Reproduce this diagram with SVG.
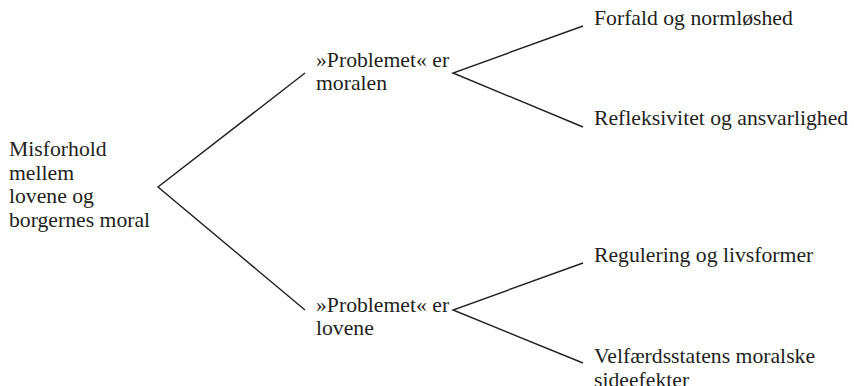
<svg xmlns="http://www.w3.org/2000/svg" width="854" height="386" viewBox="0 0 854 386">
  <style>
    .edge { stroke: #231f20; stroke-width: 1.4; fill: none; }
  </style>
  <rect width="854" height="386" fill="#ffffff"/>

  <g id="connectors">
    <polyline class="edge" points="305,73 158,187 305,310"/>
    <polyline class="edge" points="583,26 453,73 583,127"/>
    <polyline class="edge" points="583,263 453,310 583,363"/>
  </g>

  <g id="labels" font-family="Liberation Serif, Times New Roman, serif" font-size="21.7" fill="#231f20">
    <g id="root">
      <text x="9" y="156">Misforhold</text>
      <text x="9" y="180">mellem</text>
      <text x="9" y="203">lovene og</text>
      <text x="9" y="227">borgernes moral</text>
    </g>

    <g id="moral">
      <text x="316" y="67">»Problemet« er</text>
      <text x="316" y="90">moralen</text>
    </g>

    <g id="laws">
      <text x="316" y="312">»Problemet« er</text>
      <text x="316" y="335">lovene</text>
    </g>

    <g id="decay">
      <text x="594" y="25">Forfald og normløshed</text>
    </g>

    <g id="reflexivity">
      <text x="594" y="125">Refleksivitet og ansvarlighed</text>
    </g>

    <g id="regulation">
      <text x="594" y="262">Regulering og livsformer</text>
    </g>

    <g id="welfare">
      <text x="594" y="363">Velfærdsstatens moralske</text>
      <text x="594" y="387">sideefekter</text>
    </g>
  </g>
</svg>
